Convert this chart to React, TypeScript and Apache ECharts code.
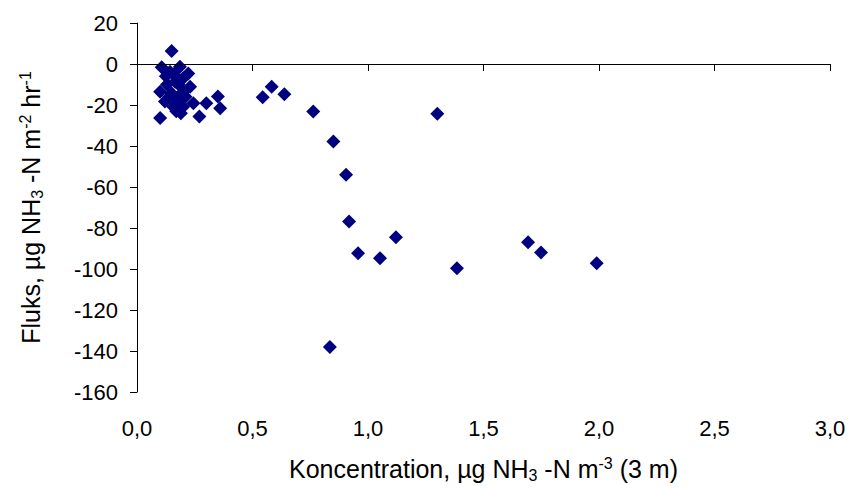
import React, { useEffect, useRef } from "react";
import * as echarts from "echarts";

const concentration: number[] = [
  0.15, 0.107, 0.186, 0.222, 0.143, 0.165, 0.1, 0.15, 0.23, 0.2,
  0.121, 0.17, 0.244, 0.30, 0.35, 0.36, 0.27, 0.19, 0.10, 0.157,
  0.2, 0.13, 0.16, 0.18, 0.2, 0.14, 0.185, 0.21, 0.17, 0.125,
  0.583, 0.544, 0.638, 0.763, 0.85, 1.30, 0.905, 0.918, 0.957, 1.052,
  1.121, 1.385, 1.693, 1.749, 1.99, 0.835,
];
const flux: number[] = [
  6.3, -1.6, -1.4, -4.6, -3.8, -8.6, -13.5, -14.3, -11.1, -13.5,
  -18.3, -16.7, -19.1, -19.1, -15.9, -21.6, -25.6, -24, -26.4, -20.8,
  -20.8, -10, -5, -10, -7, -16, -18, -16, -23, -6,
  -11.1, -16.2, -14.8, -23.2, -37.8, -24.3, -54, -76.8, -92.3, -94.7,
  -84.5, -99.6, -87, -91.9, -97.2, -138,
];

const xTicks = { min: 0, max: 3, interval: 0.5 };
const yTicks = { min: -160, max: 20, interval: 20 };

const FONT = "'Liberation Sans', Arial, sans-serif";

export default function App() {
  const ref = useRef<HTMLDivElement>(null);
  useEffect(() => {
    if (!ref.current) return;
    const chart = echarts.init(ref.current, undefined, { renderer: "svg" });
    const data = concentration.map((c, i) => [c, flux[i]]);
    const rich = {
      a: { fontFamily: FONT, fontSize: 25, color: "#000" },
      s: { fontFamily: FONT, fontSize: 16, color: "#000", padding: [12, 0, 0, 0] },
      p: { fontFamily: FONT, fontSize: 16, color: "#000", padding: [0, 0, 12, 0] },
    };
    chart.setOption({
      animation: false,
      backgroundColor: "#ffffff",
      grid: { left: 137, right: 23, top: 23, bottom: 95 },
      xAxis: {
        type: "value",
        min: xTicks.min,
        max: xTicks.max,
        interval: xTicks.interval,
        splitLine: { show: false },
        axisLine: { lineStyle: { color: "#000", width: 1 } },
        axisTick: { show: true, length: 7, lineStyle: { color: "#000" } },
        axisLabel: {
          color: "#000",
          fontFamily: FONT,
          fontSize: 22,
          margin: 25,
          formatter: (v: number) => v.toFixed(1).replace(".", ","),
        },
        name: "{a|Koncentration, µg NH}{s|3}{a| -N m}{p|-3}{a| (3 m)}",
        nameLocation: "middle",
        nameGap: 63,
        nameTextStyle: { rich },
      },
      yAxis: {
        type: "value",
        min: yTicks.min,
        max: yTicks.max,
        interval: yTicks.interval,
        splitLine: { show: false },
        axisLine: { onZero: false, lineStyle: { color: "#000", width: 1 } },
        axisTick: { show: true, length: 7, lineStyle: { color: "#000" } },
        axisLabel: {
          color: "#000",
          fontFamily: FONT,
          fontSize: 22,
          margin: 19,
        },
        name: "{a|Fluks, µg NH}{s|3}{a| -N m}{p|-2}{a| hr}{p|-1}",
        nameLocation: "middle",
        nameRotate: 90,
        nameGap: 92,
        nameTextStyle: { rich },
      },
      series: [
        {
          type: "scatter",
          data,
          symbol: "diamond",
          symbolSize: 14,
          itemStyle: { color: "#000080", opacity: 1 },
          markLine: {
            silent: true,
            symbol: "none",
            label: { show: false },
            lineStyle: { color: "#000", width: 1, type: "solid" },
            data: [{ yAxis: 0 }],
          },
        },
      ],
    });
    return () => chart.dispose();
  }, []);
  return (
    <div
      ref={ref}
      style={{ position: "fixed", left: 0, top: 0, width: 853, height: 488 }}
    />
  );
}
